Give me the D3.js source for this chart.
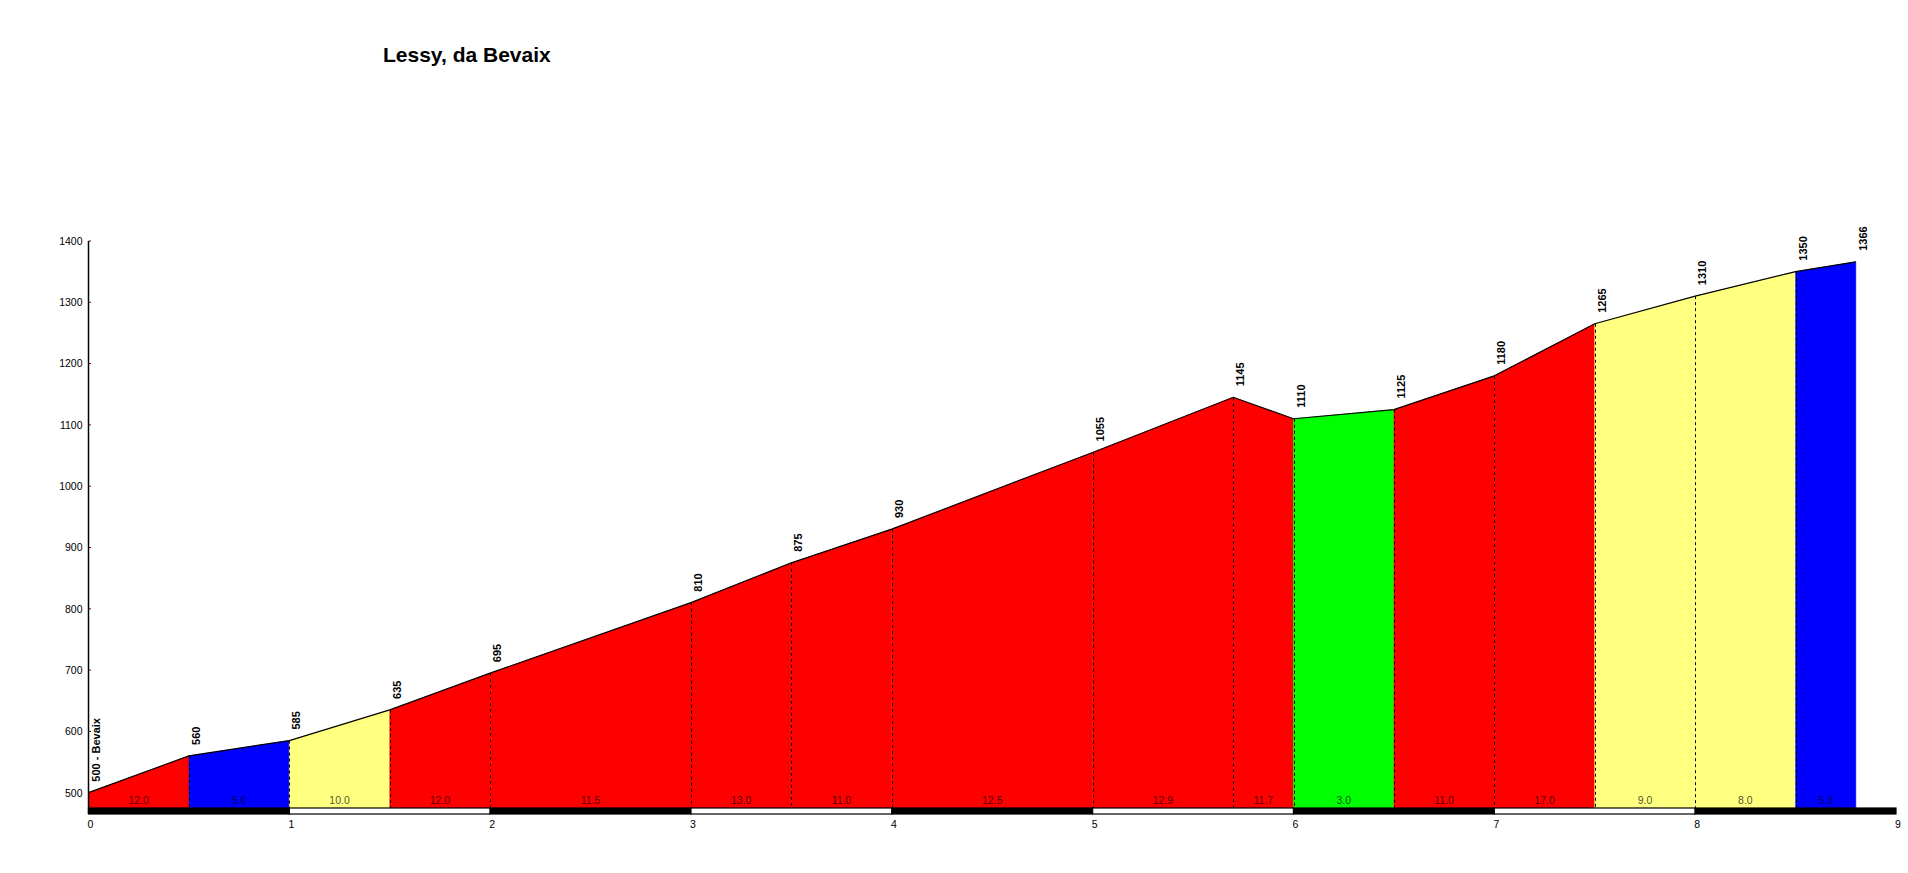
<!DOCTYPE html>
<html>
<head>
<meta charset="utf-8">
<script src="https://cdn.jsdelivr.net/npm/d3@7"></script>
<style>
  html, body { margin: 0; padding: 0; background: #fff; }
  svg { display: block; font-family: "Liberation Sans", Arial, sans-serif; }
</style>
</head>
<body>
<svg id="chart" width="1908" height="873"></svg>
<script>
// ---- data ----
const title = "Lessy, da Bevaix";
const distances = [0, 0.5, 1.0, 1.5, 2.0, 3.0, 3.5, 4.0, 5.0, 5.7, 6.0, 6.5, 7.0, 7.5, 8.0, 8.5, 8.8];
const elevations = [500, 560, 585, 635, 695, 810, 875, 930, 1055, 1145, 1110, 1125, 1180, 1265, 1310, 1350, 1366];
const pointLabels = ["500 - Bevaix", "560", "585", "635", "695", "810", "875", "930", "1055", "1145", "1110", "1125", "1180", "1265", "1310", "1350", "1366"];
const gradientLabels = ["12.0", "5.0", "10.0", "12.0", "11.5", "13.0", "11.0", "12.5", "12.9", "11.7", "3.0", "11.0", "17.0", "9.0", "8.0", "5.3"];
const segmentColors = ["#ff0000", "#0000ff", "#ffff80", "#ff0000", "#ff0000", "#ff0000", "#ff0000", "#ff0000", "#ff0000", "#ff0000", "#00ff00", "#ff0000", "#ff0000", "#ffff80", "#ffff80", "#0000ff"];
const yTicks = [500, 600, 700, 800, 900, 1000, 1100, 1200, 1300, 1400];
const xTicks = [0, 1, 2, 3, 4, 5, 6, 7, 8, 9];

// ---- scales ----
const svg = d3.select("#chart");
const x = d3.scaleLinear().domain([0, 9]).range([88.5, 1896]);
const y = d3.scaleLinear().domain([475, 1400]).range([808, 241]);
const base = y(475);

// title
svg.append("text")
  .attr("x", 383).attr("y", 62)
  .attr("font-size", 21).attr("font-weight", "bold")
  .attr("fill", "#000")
  .text(title);

// segments
const segs = d3.range(distances.length - 1).map(i => ({
  x0: distances[i], x1: distances[i + 1],
  e0: elevations[i], e1: elevations[i + 1],
  color: segmentColors[i], label: gradientLabels[i]
}));

const area = d3.area().x(d => x(d[0])).y0(base).y1(d => y(d[1]));

svg.append("g").selectAll("path").data(segs).join("path")
  .attr("d", d => area([[d.x0, d.e0], [d.x1, d.e1]]))
  .attr("fill", d => d.color)
  .attr("stroke", d => d.color)
  .attr("stroke-width", 0.5);

// dashed verticals at interior points
svg.append("g").selectAll("line").data(distances.slice(1, -1).map((d, i) => [d, elevations[i + 1]])).join("line")
  .attr("x1", d => Math.round(x(d[0])) + 0.5).attr("x2", d => Math.round(x(d[0])) + 0.5)
  .attr("y1", d => y(d[1])).attr("y2", base)
  .attr("stroke", "#000").attr("stroke-width", 1)
  .attr("stroke-dasharray", "3,3");

// profile line
svg.append("path")
  .datum(distances.map((d, i) => [d, elevations[i]]))
  .attr("d", d3.line().x(d => x(d[0])).y(d => y(d[1])))
  .attr("fill", "none").attr("stroke", "#000").attr("stroke-width", 1.2);

// gradient labels
svg.append("g").selectAll("text").data(segs).join("text")
  .attr("x", d => x((d.x0 + d.x1) / 2))
  .attr("y", base - 4)
  .attr("text-anchor", "middle")
  .attr("font-size", 10.5)
  .attr("fill", "#000").attr("fill-opacity", 0.72)
  .text(d => d.label);

// distance bar
const kmSegs = d3.range(xTicks.length - 1).map(i => [xTicks[i], xTicks[i + 1], i % 2 === 0]);
svg.append("g").selectAll("rect").data(kmSegs).join("rect")
  .attr("x", d => x(d[0])).attr("width", d => x(d[1]) - x(d[0]))
  .attr("y", base).attr("height", 6)
  .attr("fill", d => d[2] ? "#000" : "#fff")
  .attr("stroke", "#000").attr("stroke-width", 1.2);

// y axis
const yAxis = d3.axisLeft(y).tickValues(yTicks).tickSize(0).tickPadding(6).tickFormat(d3.format("d"));
const yg = svg.append("g").attr("transform", `translate(${x(0)},0)`).call(yAxis);
yg.select(".domain").remove();
yg.selectAll("text").attr("font-size", 10.5).attr("fill", "#000").attr("font-family", "Liberation Sans, Arial, sans-serif");
svg.append("line")
  .attr("x1", x(0)).attr("x2", x(0)).attr("y1", y(1400)).attr("y2", base + 6)
  .attr("stroke", "#000").attr("stroke-width", 1.5);
svg.append("g").selectAll("line").data(yTicks).join("line")
  .attr("x1", x(0)).attr("x2", x(0) + 2.5)
  .attr("y1", d => y(d)).attr("y2", d => y(d))
  .attr("stroke", "#600").attr("stroke-width", 1);

// x axis labels
const xAxis = d3.axisBottom(x).tickValues(xTicks).tickSize(0).tickPadding(0).tickFormat(d3.format("d"));
const xg = svg.append("g").attr("transform", `translate(1.5,${base + 13})`).call(xAxis);
xg.select(".domain").remove();
xg.selectAll("text").attr("font-size", 10.5).attr("fill", "#000").attr("font-family", "Liberation Sans, Arial, sans-serif");

// elevation labels
svg.append("g").selectAll("text").data(distances.map((d, i) => [d, elevations[i], pointLabels[i]])).join("text")
  .attr("transform", d => `translate(${x(d[0]) + 11},${y(d[1]) - 11}) rotate(-90)`)
  .attr("font-size", 11).attr("font-weight", "bold")
  .attr("fill", "#000")
  .text(d => d[2]);
</script>
</body>
</html>
